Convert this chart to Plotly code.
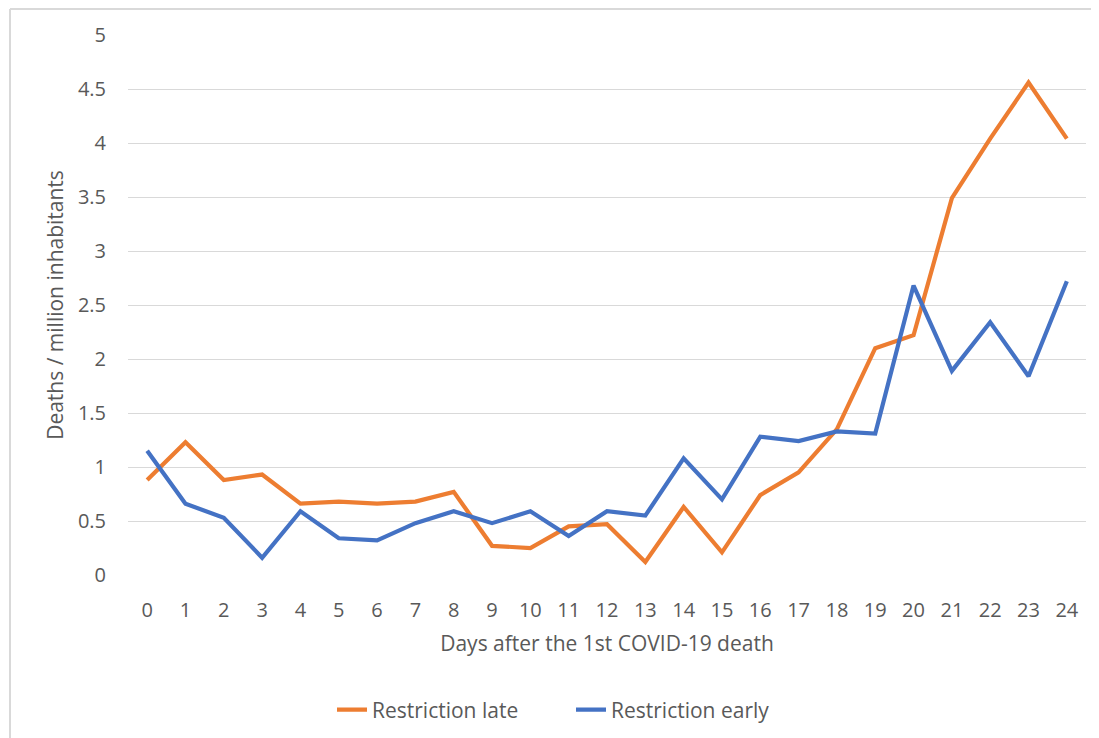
import plotly.graph_objects as go

days = list(range(25))
day_labels = [str(d) for d in days]

restriction_late = [0.88, 1.23, 0.88, 0.93, 0.66, 0.68, 0.66, 0.68, 0.77, 0.27,
                    0.25, 0.45, 0.47, 0.12, 0.63, 0.21, 0.74, 0.95, 1.35, 2.10,
                    2.22, 3.49, 4.04, 4.56, 4.04]
restriction_early = [1.15, 0.66, 0.53, 0.16, 0.59, 0.34, 0.32, 0.48, 0.59, 0.48,
                     0.59, 0.36, 0.59, 0.55, 1.08, 0.70, 1.28, 1.24, 1.33, 1.31,
                     2.68, 1.89, 2.34, 1.84, 2.72]

series_names = ["Restriction late", "Restriction early"]
series_colors = ["#ED7D31", "#4472C4"]

FONT = "Open Sans, Calibri, Carlito, sans-serif"
TXT = "#595959"
W, H = 1091, 730
L, R, T, B = 120, 13, 27, 163
PW, PH = W - L - R, H - T - B

fig = go.Figure()
for name, vals, col in zip(series_names, [restriction_late, restriction_early], series_colors):
    fig.add_trace(go.Scatter(x=days, y=vals, mode="lines", name=name,
                             line=dict(color=col, width=4.2)))

fig.update_layout(
    width=W, height=H,
    margin=dict(l=L, r=R, t=T, b=B, autoexpand=False),
    paper_bgcolor="white", plot_bgcolor="white",
    font=dict(family=FONT, color=TXT, size=20),
    xaxis=dict(range=[-0.5, 24.5], tickmode="array", tickvals=days, ticktext=day_labels,
               showgrid=False, zeroline=False, showline=False, ticks="",
               ticklabelstandoff=21, tickfont=dict(size=20, color=TXT),
               title=dict(text="Days after the 1st COVID-19 death", standoff=14,
                          font=dict(size=21, color=TXT))),
    yaxis=dict(range=[0, 5], dtick=0.5, tickformat="~g", showgrid=True,
               gridcolor="#D9D9D9", gridwidth=1.3, zeroline=False, showline=False,
               ticks="", ticklabelstandoff=21, tickfont=dict(size=20, color=TXT),
               title=dict(text="Deaths / million inhabitants", standoff=8,
                          font=dict(size=21, color=TXT))),
    legend=dict(orientation="h", x=(571 - 8 - L) / PW, xanchor="center",
                y=(575 - 710) / PH, yanchor="middle",
                entrywidth=194, entrywidthmode="pixels",
                font=dict(size=21, color=TXT), tracegroupgap=0),
    showlegend=True,
)

# gray frame (chart area border)
fx = (2 - L) / PW
fy = (PH + T - 1) / PH
fig.add_shape(type="line", xref="paper", yref="paper",
              x0=fx, x1=(W - L) / PW, y0=fy, y1=fy,
              line=dict(color="#D9D9D9", width=2))
fig.add_shape(type="line", xref="paper", yref="paper",
              x0=fx, x1=fx, y0=fy, y1=-B / PH,
              line=dict(color="#D9D9D9", width=2))

fig.write_html("out.html")
